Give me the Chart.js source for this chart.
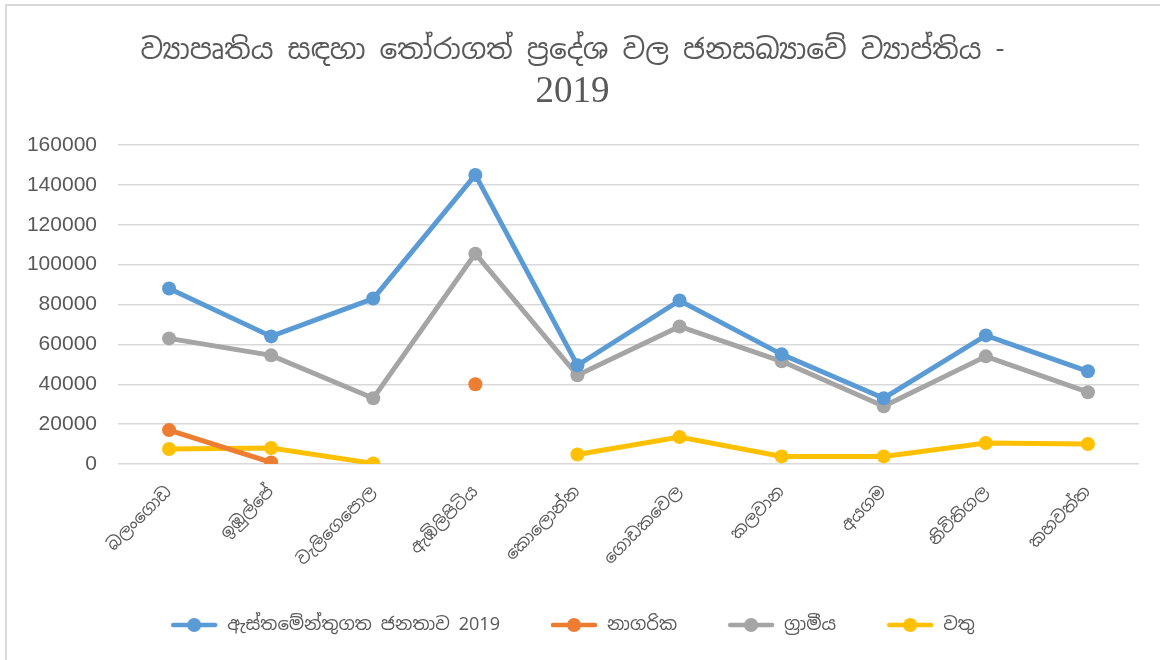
<!DOCTYPE html>
<html>
<head>
<meta charset="utf-8">
<script src="https://cdn.jsdelivr.net/npm/chart.js@4.4.1/dist/chart.umd.min.js"></script>
<style>
  html, body { margin: 0; padding: 0; background: #fff; }
  #wrap { position: relative; width: 1160px; height: 660px; }
  #frame { position: absolute; left: 5px; top: 4px; right: 0; bottom: 0;
           border-top: 2px solid #d9d9d9; border-left: 2px solid #d9d9d9; }
  canvas { position: absolute; left: 0; top: 0; }
</style>
</head>
<body>
<div id="wrap">
  <div id="frame"></div>
  <canvas id="chart" width="1160" height="660"></canvas>
</div>
<script>
const titleText = 'ව්‍යාපෘතිය සඳහා තෝරාගත් ප්‍රදේශ වල ජනසඛ්‍යාවේ ව්‍යාප්තිය -';
const titleYear = '2019';
const areas = ['බලංගොඩ', 'ඉඹුල්පේ', 'වැලිගෙපොල', 'ඇඹිලිපිටිය', 'කොලොන්න', 'ගොඩකවෙල', 'කලවාන', 'අයගම', 'නිවිතිගල', 'කහවත්ත'];
const seriesNames = ['ඇස්තමේන්තුගත ජනතාව 2019', 'නාගරික', 'ග්‍රාමීය', 'වතු'];
const totalPop = [88000, 64000, 83000, 145000, 49500, 82000, 55000, 33000, 64500, 46500];
const urbanPop = [17000, 800, null, 40000, null, null, null, null, null, null];
const ruralPop = [63000, 54500, 33000, 105500, 44500, 69000, 51500, 29000, 54000, 36000];
const estatePop = [7500, 8000, 300, null, 4800, 13500, 3800, 3800, 10500, 10000];
const yTicks = [0, 20000, 40000, 60000, 80000, 100000, 120000, 140000, 160000];

const colors = ['#5b9bd5', '#ed7d31', '#a5a5a5', '#ffc000'];
const sinhala = "'Noto Sans Sinhala', 'Iskoola Pota', 'Liberation Serif', serif";

// little line-with-dot swatch for the legend, Excel style
function legendMark(color) {
  const c = document.createElement('canvas');
  c.width = 48; c.height = 16;
  const g = c.getContext('2d');
  g.strokeStyle = color; g.lineWidth = 4.5; g.lineCap = 'round';
  g.beginPath(); g.moveTo(3, 8); g.lineTo(45, 8); g.stroke();
  g.fillStyle = color;
  g.beginPath(); g.arc(24, 8, 7, 0, Math.PI * 2); g.fill();
  return c;
}

function makeSet(i, data) {
  return {
    label: seriesNames[i], data,
    borderColor: colors[i], backgroundColor: colors[i],
    borderWidth: 5, pointRadius: 7, pointHoverRadius: 7,
    pointBorderWidth: 0, tension: 0, spanGaps: false
  };
}

new Chart(document.getElementById('chart'), {
  type: 'line',
  data: {
    labels: areas,
    datasets: [makeSet(0, totalPop), makeSet(1, urbanPop), makeSet(2, ruralPop), makeSet(3, estatePop)]
  },
  options: {
    responsive: false,
    animation: false,
    layout: { padding: { left: 6, right: 21, top: 0, bottom: 16 } },
    plugins: {
      title: {
        display: true, text: titleText, color: '#595959',
        font: { family: sinhala, size: 28, weight: 'normal', lineHeight: 1.2 },
        padding: { top: 34, bottom: 2 }
      },
      subtitle: {
        display: true, text: titleYear, color: '#595959',
        font: { family: "'Liberation Serif', serif", size: 37, weight: 'normal', lineHeight: 1.2 },
        padding: { top: 0, bottom: 31 }
      },
      legend: {
        position: 'bottom',
        labels: {
          usePointStyle: true, pointStyleWidth: 48, boxHeight: 16,
          color: '#595959', padding: 50,
          font: { family: sinhala, size: 18 },
          generateLabels(chart) {
            const items = Chart.defaults.plugins.legend.labels.generateLabels(chart);
            items.forEach((it, i) => { it.pointStyle = legendMark(colors[i]); });
            return items;
          }
        }
      },
      tooltip: { enabled: false }
    },
    scales: {
      x: {
        offset: true,
        grid: { display: false },
        border: { display: false },
        ticks: {
          color: '#595959', minRotation: 45, maxRotation: 45, padding: 10,
          font: { family: sinhala, size: 17 }
        },
        afterFit(scale) { scale.height = 102; }
      },
      y: {
        min: 0, max: 160000,
        afterBuildTicks(scale) { scale.ticks = yTicks.map(v => ({ value: v })); },
        grid: { color: '#d9d9d9', lineWidth: 1.5, drawTicks: false },
        border: { display: false },
        ticks: {
          color: '#595959', padding: 21,
          font: { family: "'Liberation Sans', Arial, sans-serif", size: 21 },
          callback: v => String(v)
        },
        afterFit(scale) { scale.width = 112; }
      }
    }
  }
});
</script>
</body>
</html>
